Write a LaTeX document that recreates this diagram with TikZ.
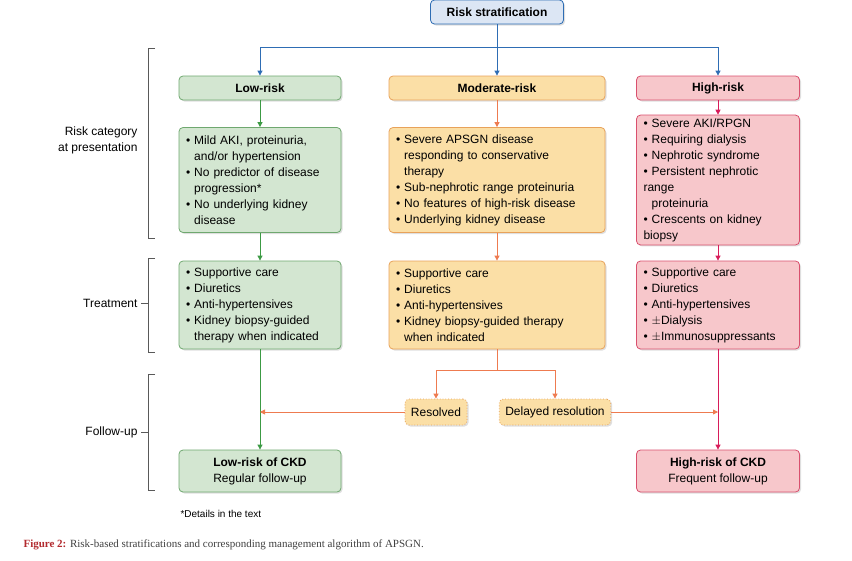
\documentclass[tikz,border=0pt]{standalone}
\usepackage{fontspec}
\setmainfont{Liberation Sans}
\newfontfamily\capfont{Liberation Serif}
\usetikzlibrary{arrows.meta,shadows}
\definecolor{bluel}{HTML}{2E6DB4}
\definecolor{bluef}{HTML}{DCE6F4}
\definecolor{greenl}{HTML}{3C9A44}
\definecolor{greenb}{HTML}{6FA86F}
\definecolor{greenf}{HTML}{D3E6D1}
\definecolor{orangel}{HTML}{EE7B50}
\definecolor{orangeb}{HTML}{E8A25A}
\definecolor{orangef}{HTML}{FBDFA6}
\definecolor{redl}{HTML}{D81C5A}
\definecolor{redb}{HTML}{D9506E}
\definecolor{redf}{HTML}{F7C7CB}
\definecolor{capred}{HTML}{B22A2E}
\newcommand{\bl}{\textbullet\ }
\newcommand{\ind}{\phantom{\textbullet\ }}
\tikzset{
  box/.style={rounded corners=4pt, draw, thick, font=\fontsize{12}{16}\selectfont,
    drop shadow={opacity=0.25, shadow xshift=1.5pt, shadow yshift=-1.5pt}},
  lowbox/.style={box, draw=greenb, fill=greenf},
  modbox/.style={box, draw=orangeb, fill=orangef},
  highbox/.style={box, draw=redb, fill=redf},
  listbox/.style={align=left, text width=150pt, inner xsep=7pt},
  flow/.style={thick, -{Triangle[length=5pt,width=5pt]}},
  label/.style={font=\fontsize{12}{16}\selectfont, align=right, anchor=east}
}
\begin{document}
\begin{tikzpicture}[x=1pt,y=-1pt]
\useasboundingbox (0,0) rectangle (852,560);

% header
\node[box, draw=bluel, fill=bluef, minimum width=133pt, minimum height=24pt, font=\fontsize{12}{14}\selectfont\bfseries] (risk) at (497,12) {Risk stratification};

% category heads
\node[lowbox, minimum width=162pt, minimum height=24pt, font=\fontsize{12}{14}\selectfont\bfseries] (low) at (260,88) {Low-risk};
\node[modbox, minimum width=216pt, minimum height=24pt, font=\fontsize{12}{14}\selectfont\bfseries] (mod) at (497,88) {Moderate-risk};
\node[highbox, minimum width=163pt, minimum height=24pt, font=\fontsize{12}{14}\selectfont\bfseries] (high) at (718,88) {High-risk};

% presentation
\node[lowbox, listbox, minimum width=162pt, minimum height=105pt, text width=148pt] (lowp) at (260,180)
  {\bl Mild AKI, proteinuria,\\\ind and/or hypertension\\\bl No predictor of disease\\\ind progression*\\\bl No underlying kidney\\\ind disease};
\node[modbox, listbox, minimum width=216pt, minimum height=105pt, text width=202pt] (modp) at (497,180)
  {\bl Severe APSGN disease\\\ind responding to conservative\\\ind therapy\\\bl Sub-nephrotic range proteinuria\\\bl No features of high-risk disease\\\bl Underlying kidney disease};
\node[highbox, listbox, minimum width=163pt, minimum height=105pt, text width=149pt] (highp) at (718,180)
  {\bl Severe AKI/RPGN\\\bl Requiring dialysis\\\bl Nephrotic syndrome\\\bl Persistent nephrotic range\\\ind proteinuria\\\bl Crescents on kidney biopsy};

% treatment
\node[lowbox, listbox, minimum width=162pt, minimum height=88pt, text width=148pt] (lowt) at (260,305)
  {\bl Supportive care\\\bl Diuretics\\\bl Anti-hypertensives\\\bl Kidney biopsy-guided\\\ind therapy when indicated};
\node[modbox, listbox, minimum width=216pt, minimum height=88pt, text width=202pt] (modt) at (497,305)
  {\bl Supportive care\\\bl Diuretics\\\bl Anti-hypertensives\\\bl Kidney biopsy-guided therapy\\\ind when indicated};
\node[highbox, listbox, minimum width=163pt, minimum height=88pt, text width=149pt] (hight) at (718,305)
  {\bl Supportive care\\\bl Diuretics\\\bl Anti-hypertensives\\\bl $\pm$Dialysis\\\bl $\pm$Immunosuppressants};

% follow-up
\node[modbox, dotted, minimum height=26pt, inner xsep=6pt] (res) at (436,412) {Resolved};
\node[modbox, dotted, minimum height=26pt, inner xsep=6pt] (del) at (555,412) {Delayed resolution};
\node[lowbox, minimum width=162pt, minimum height=42pt, align=center] (lowf) at (260,471) {\textbf{Low-risk of CKD}\\Regular follow-up};
\node[highbox, minimum width=163pt, minimum height=42pt, align=center] (highf) at (718,471) {\textbf{High-risk of CKD}\\Frequent follow-up};

% connectors
\coordinate (split) at (497,47);
\draw[bluel, thick] (risk.south) -- (split);
\draw[flow, bluel] (split) -| (low.north);
\draw[flow, bluel] (split) -- (mod.north);
\draw[flow, bluel] (split) -| (high.north);
\draw[flow, greenl] (low) -- (lowp);
\draw[flow, greenl] (lowp) -- (lowt);
\draw[flow, greenl] (lowt) -- (lowf);
\draw[flow, orangel] (mod) -- (modp);
\draw[flow, orangel] (modp) -- (modt);
\draw[flow, redl] (high) -- (highp);
\draw[flow, redl] (highp) -- (hight);
\draw[flow, redl] (hight) -- (highf);
\coordinate (fork) at (497,370);
\draw[orangel, thick] (modt.south) -- (fork);
\draw[flow, orangel] (fork) -| (res.north);
\draw[flow, orangel] (fork) -| (del.north);
\draw[flow, orangel] (res.west) -- (260,412);
\draw[flow, orangel] (del.east) -- (718,412);

% brackets
\draw[gray!70!black] (155,48) -- (148,48) -- (148,238) -- (155,238);
\draw[gray!70!black] (155,258) -- (148,258) -- (148,352) -- (155,352);
\draw[gray!70!black] (155,374) -- (148,374) -- (148,490) -- (155,490);
\node[label] (lcat) at (141,140) {Risk category\\at presentation};
\node[label] (ltrt) at (141,303) {Treatment};
\node[label] (lfol) at (141,432) {Follow-up};
\draw[gray!70!black] (ltrt.east) -- (148,303);
\draw[gray!70!black] (lfol.east) -- (148,432);

% notes
\node[anchor=west, font=\fontsize{10}{12}\selectfont] (note) at (177,514) {*Details in the text};
\node[anchor=west, font=\capfont\fontsize{11}{13}\selectfont, text=black!75] (cap) at (20,545) {\textcolor{capred}{\textbf{Figure 2:}} Risk-based stratifications and corresponding management algorithm of APSGN.};
\end{tikzpicture}
\end{document}
